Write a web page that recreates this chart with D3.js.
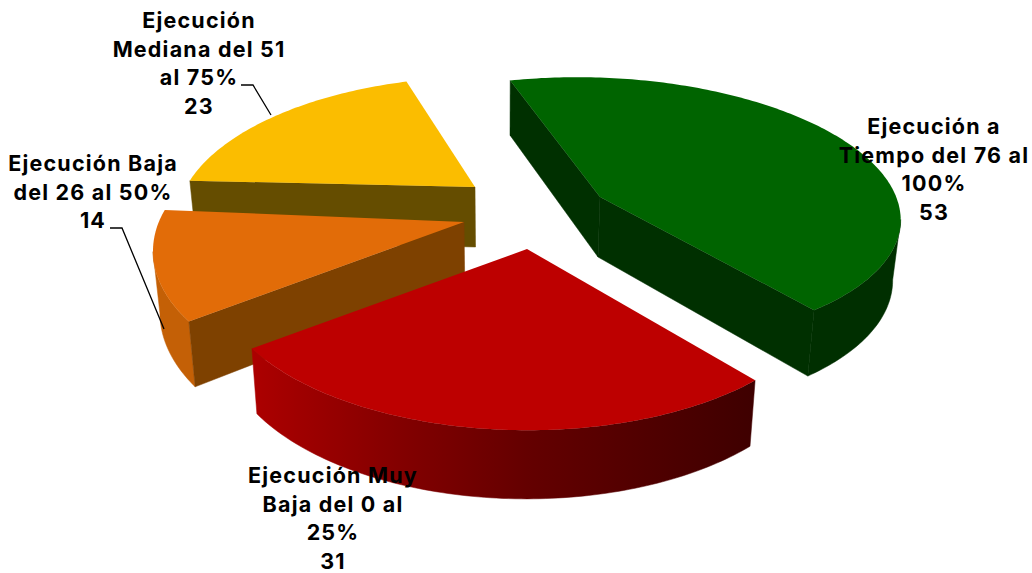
<!DOCTYPE html>
<html><head><meta charset="utf-8">
<script src="https://cdn.jsdelivr.net/npm/d3@7"></script>
<style>html,body{margin:0;padding:0;background:#fff}svg{display:block}</style>
</head><body><svg id="c" width="1032" height="573"></svg>
<script>
const categories = ["Ejecución a Tiempo del 76 al 100%","Ejecución Muy Baja del 0 al 25%","Ejecución Baja del 26 al 50%","Ejecución Mediana del 51 al 75%"];
const values = [53,31,14,23];
const labelLines = [["Ejecución a","Tiempo del 76 al","100%"],["Ejecución Muy","Baja del 0 al","25%"],["Ejecución Baja","del 26 al 50%"],["Ejecución","Mediana del 51","al 75%"]];
const topColors = ["#006400","#bd0000","#e26c08","#fbbd00"];
const wallColors = ["#003000","#600000","#7e4100","#654d00"];
const outerColors = ["#002f00","url(#redWall)","#c46006","#654d00"];
const apexX = [600,527,464,475];
const apexY = [197,249,222,187];
const labelX = [934,333,93,199];
const labelY = [134,483,171,28];
const drawOrder = [3,2,0,1];
// per-slice projection constants (the pieces sit at different depths in the 3D view)
const sliceKX = [300,300,300,286];
const sliceKY = [131,143,143,133];
const sliceShear = [10,17,17,22];
const sliceRoll = [14,10.7,10.7,5];
const slicePersp = [.1,.209,.209,.209];

const svg = d3.select("#c");
const defs = svg.append("defs");
const g = defs.append("linearGradient").attr("id","redWall").attr("gradientUnits","userSpaceOnUse")
  .attr("x1",253).attr("x2",752).attr("y1",0).attr("y2",0);
[[0,"#ac0000"],[.3,"#820000"],[.55,"#640000"],[1,"#3f0000"]].forEach(s=>g.append("stop").attr("offset",s[0]).attr("stop-color",s[1]));

const start = -21*Math.PI/180;
const pie = d3.pie().sort(null).startAngle(start).endAngle(start+2*Math.PI);
const arcs = pie(values);
const DEPTH=60, VANISH_X=500, CONVERGE=.02;
function proj(a,i){
  const wx=Math.sin(a), wy=Math.cos(a), p=1/(1+slicePersp[i]*wy), q=1/(1+.209*wy);
  const x=apexX[i]+(sliceKX[i]*wx+sliceShear[i]*wy)*p;
  return {x, y:apexY[i]+(-sliceKY[i]*wy+sliceRoll[i]*wx)*p, bx:x+(VANISH_X-x)*CONVERGE, by:apexY[i]+(-sliceKY[i]*wy+sliceRoll[i]*wx)*p+DEPTH*(1+(q-1)*.55)};
}
const line = d3.line();
function quad(layer,a,b,fill){
  layer.append("path").attr("d",line([[a.x,a.y],[b.x,b.y],[b.bx,b.by],[a.bx,a.by]])+"Z")
    .attr("fill",fill).attr("stroke",fill).attr("stroke-width",.5);
}
drawOrder.forEach(i=>{
  const d=arcs[i], layer=svg.append("g");
  const n=Math.max(8,Math.round((d.endAngle-d.startAngle)*60));
  const angs=d3.range(n+1).map(k=>d.startAngle+(d.endAngle-d.startAngle)*k/n);
  const rim=angs.map(a=>proj(a,i));
  const ax=apexX[i], ay=apexY[i];
  const apex={x:ax,y:ay,bx:ax+(VANISH_X-ax)*CONVERGE,by:ay+DEPTH};
  const front=[];
  for(let k=0;k<n;k++){ if(rim[k+1].x<rim[k].x){ if(!front.length)front.push(rim[k]); front.push(rim[k+1]); } }
  if(front.length){
    const pts=front.map(p=>[p.x,p.y]).concat(front.slice().reverse().map(p=>[p.bx,p.by]));
    layer.append("path").attr("d",line(pts)+"Z").attr("fill",outerColors[i]).attr("stroke",outerColors[i]).attr("stroke-width",.5);
  }
  const first=rim[0], last=rim[n];
  if(first.x<apex.x) quad(layer,apex,first,wallColors[i]);
  if(apex.x<last.x) quad(layer,last,apex,wallColors[i]);
  layer.append("path").attr("d",line([[ax,ay]].concat(rim.map(p=>[p.x,p.y])))+"Z").attr("fill",topColors[i]);
});

const leaders = [[[241,85],[253,85],[271,115]],[[110,228],[122,228],[164,329]]];
leaders.forEach(l=>svg.append("path").attr("d",line(l)).attr("fill","none").attr("stroke","#000").attr("stroke-width",1.3));

categories.forEach((c,i)=>{
  const t=svg.append("text").attr("text-anchor","middle").attr("font-family","Inter, sans-serif")
    .attr("font-weight",700).attr("font-size",21.5).attr("letter-spacing",1.2).attr("fill","#000");
  labelLines[i].concat([String(values[i])]).forEach((s,k)=>{
    t.append("tspan").attr("x",labelX[i]).attr("y",labelY[i]+k*28.5).text(s);
  });
});
</script></body></html>
